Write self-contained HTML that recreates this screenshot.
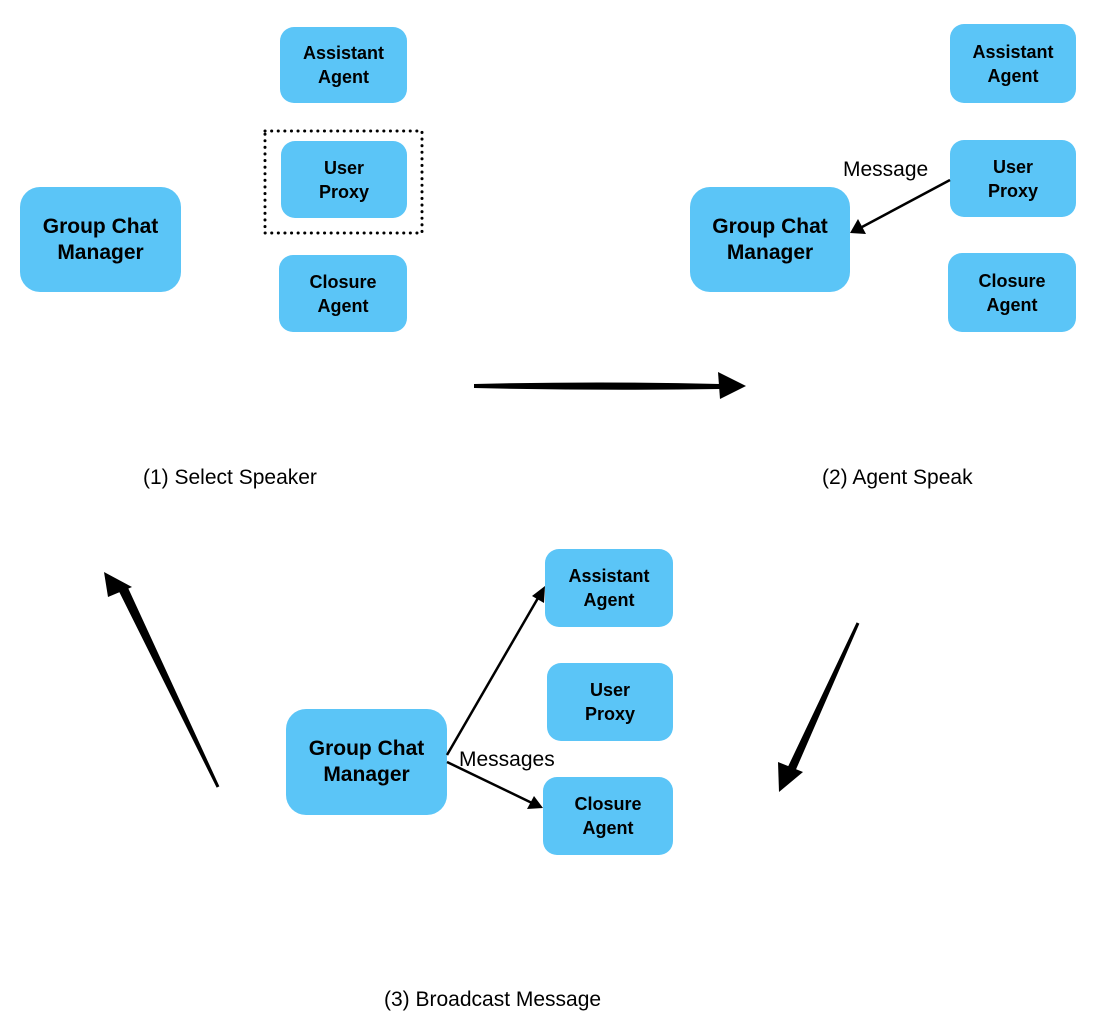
<!DOCTYPE html>
<html><head><meta charset="utf-8"><style>
body{margin:0;width:1103px;height:1014px;background:#fff;position:relative;overflow:hidden;font-family:"Liberation Sans",sans-serif}
.b{position:absolute;background:#5bc5f7;border-radius:14px;display:flex;align-items:center;justify-content:center;text-align:center;font-weight:bold;font-size:18px;line-height:24px;color:#000}
.g{font-size:21px;line-height:26px;border-radius:20px}
.t{position:absolute;font-size:21px;color:#000;white-space:nowrap}
svg{position:absolute;left:0;top:0}
</style></head><body>
<div class="b" style="left:280px;top:27px;width:127px;height:76px">Assistant<br>Agent</div>
<div class="b" style="left:281px;top:141px;width:126px;height:77px">User<br>Proxy</div>
<div class="b" style="left:279px;top:255px;width:128px;height:77px">Closure<br>Agent</div>
<div class="b g" style="left:20px;top:187px;width:161px;height:105px">Group Chat<br>Manager</div>

<div class="b" style="left:950px;top:24px;width:126px;height:79px">Assistant<br>Agent</div>
<div class="b" style="left:950px;top:140px;width:126px;height:77px">User<br>Proxy</div>
<div class="b" style="left:948px;top:253px;width:128px;height:79px">Closure<br>Agent</div>
<div class="b g" style="left:690px;top:187px;width:160px;height:105px">Group Chat<br>Manager</div>

<div class="b" style="left:545px;top:549px;width:128px;height:78px">Assistant<br>Agent</div>
<div class="b" style="left:547px;top:663px;width:126px;height:78px">User<br>Proxy</div>
<div class="b" style="left:543px;top:777px;width:130px;height:78px">Closure<br>Agent</div>
<div class="b g" style="left:286px;top:709px;width:161px;height:106px">Group Chat<br>Manager</div>

<div class="t" style="left:843px;top:158px">Message</div>
<div class="t" style="left:459px;top:748px">Messages</div>
<div class="t" style="left:143px;top:466px">(1) Select Speaker</div>
<div class="t" style="left:822px;top:466px">(2) Agent Speak</div>
<div class="t" style="left:384px;top:988px">(3) Broadcast Message</div>

<svg width="1103" height="1014">
<rect x="265" y="131" width="157" height="102" fill="none" stroke="#000" stroke-width="3" stroke-dasharray="0.1 6.5" stroke-linecap="round"/>
<line x1="950" y1="180" x2="862" y2="227" stroke="#000" stroke-width="2.5"/>
<polygon points="850,233 858,219 866,234" fill="#000"/>
<line x1="447" y1="755" x2="538" y2="598" stroke="#000" stroke-width="2.5"/>
<polygon points="545,586 532,596 544,603" fill="#000"/>
<line x1="447" y1="762" x2="532" y2="803" stroke="#000" stroke-width="2.5"/>
<polygon points="543,808 527,809 534,796" fill="#000"/>
<path d="M474,384 Q600,381 720,384 L720,389 Q600,391 474,388 Z" fill="#000"/>
<polygon points="718,372 746,386 720,399" fill="#000"/>
<path d="M218,787 L120,590 L126,587 Z" fill="#000" stroke="#000" stroke-width="3"/>
<polygon points="104,572 132,587 108,597" fill="#000"/>
<path d="M858,623 L790,766 L795,768 Z" fill="#000" stroke="#000" stroke-width="3"/>
<polygon points="778,762 803,772 779,792" fill="#000"/>
</svg>
</body></html>
